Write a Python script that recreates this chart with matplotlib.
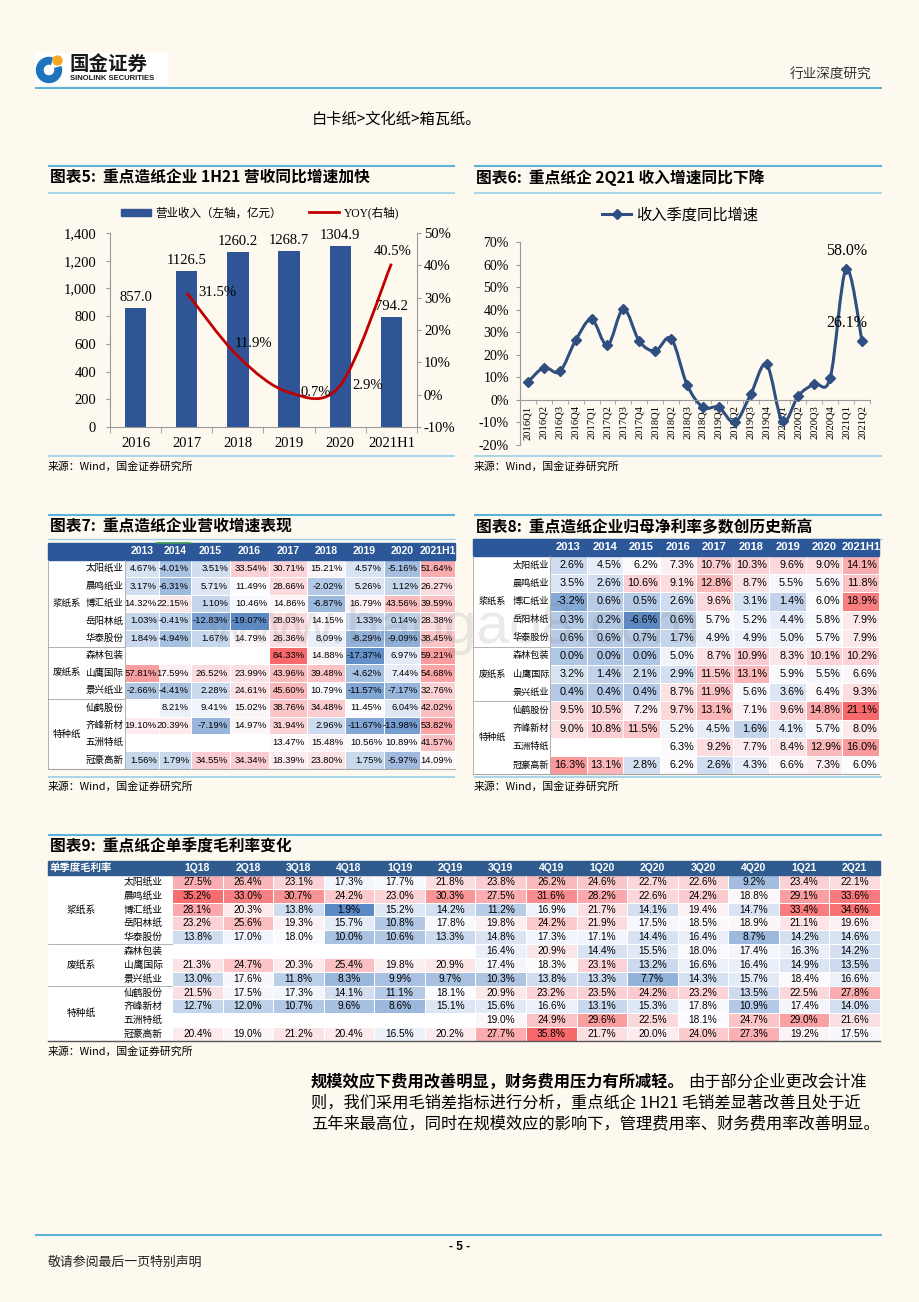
import numpy as np
import matplotlib
matplotlib.use('Agg')
import matplotlib.pyplot as plt
from matplotlib.path import Path
from matplotlib.patches import PathPatch, Rectangle, Wedge, Circle, Patch
from matplotlib.lines import Line2D
from matplotlib.colors import LinearSegmentedColormap, TwoSlopeNorm
from matplotlib.ticker import FuncFormatter, MultipleLocator

# ---------------- data ----------------
# chart 5: revenue (bars, left) and yoy (line, right)
rev_years = ['2016', '2017', '2018', '2019', '2020', '2021H1']
revenue = [857.0, 1126.5, 1260.2, 1268.7, 1304.9, 794.2]
revenue_yoy = [np.nan, 31.5, 11.9, 0.7, 2.9, 40.5]

# chart 6: quarterly revenue yoy
quarters = ['2016Q1', '2016Q2', '2016Q3', '2016Q4', '2017Q1', '2017Q2', '2017Q3', '2017Q4',
            '2018Q1', '2018Q2', '2018Q3', '2018Q4', '2019Q1', '2019Q2', '2019Q3', '2019Q4',
            '2020Q1', '2020Q2', '2020Q3', '2020Q4', '2021Q1', '2021Q2']
quarter_yoy = [7.9, 14.3, 12.6, 26.4, 35.7, 24.2, 40.3, 26.0, 21.7, 27.2, 6.7, -3.3,
               -3.3, -10.0, 2.4, 15.7, -9.5, 1.9, 7.1, 9.8, 58.0, 26.1]
quarter_labelled = [20, 21]

# tables
group_names = ['浆纸系', '废纸系', '特种纸']
group_sizes = [5, 3, 4]
companies = ['太阳纸业', '晨鸣纸业', '博汇纸业', '岳阳林纸', '华泰股份', '森林包装',
             '山鹰国际', '景兴纸业', '仙鹤股份', '齐峰新材', '五洲特纸', '冠豪高新']
table_years = ['2013', '2014', '2015', '2016', '2017', '2018', '2019', '2020', '2021H1']
nan = np.nan
rev_growth = [
    [4.67, -4.01, 3.51, 33.54, 30.71, 15.21, 4.57, -5.16, 51.64],
    [3.17, -6.31, 5.71, 11.49, 28.66, -2.02, 5.26, 1.12, 26.27],
    [14.32, 22.15, 1.10, 10.46, 14.86, -6.87, 16.79, 43.56, 39.59],
    [1.03, -0.41, -12.83, -19.07, 28.03, 14.15, 1.33, 0.14, 28.38],
    [1.84, -4.94, 1.67, 14.79, 26.36, 8.09, -8.29, -9.09, 38.45],
    [nan, nan, nan, nan, 84.33, 14.88, -17.37, 6.97, 59.21],
    [57.81, 17.59, 26.52, 23.99, 43.96, 39.48, -4.62, 7.44, 54.68],
    [-2.66, -4.41, 2.28, 24.61, 45.60, 10.79, -11.57, -7.17, 32.76],
    [nan, 8.21, 9.41, 15.02, 38.76, 34.48, 11.45, 6.04, 42.02],
    [19.10, 20.39, -7.19, 14.97, 31.94, 2.96, -11.67, -13.98, 53.82],
    [nan, nan, nan, nan, 13.47, 15.48, 10.56, 10.89, 41.57],
    [1.56, 1.79, 34.55, 34.34, 18.39, 23.80, 1.75, -5.97, 14.09],
]
net_margin = [
    [2.6, 4.5, 6.2, 7.3, 10.7, 10.3, 9.6, 9.0, 14.1],
    [3.5, 2.6, 10.6, 9.1, 12.8, 8.7, 5.5, 5.6, 11.8],
    [-3.2, 0.6, 0.5, 2.6, 9.6, 3.1, 1.4, 6.0, 18.9],
    [0.3, 0.2, -6.6, 0.6, 5.7, 5.2, 4.4, 5.8, 7.9],
    [0.6, 0.6, 0.7, 1.7, 4.9, 4.9, 5.0, 5.7, 7.9],
    [0.0, 0.0, 0.0, 5.0, 8.7, 10.9, 8.3, 10.1, 10.2],
    [3.2, 1.4, 2.1, 2.9, 11.5, 13.1, 5.9, 5.5, 6.6],
    [0.4, 0.4, 0.4, 8.7, 11.9, 5.6, 3.6, 6.4, 9.3],
    [9.5, 10.5, 7.2, 9.7, 13.1, 7.1, 9.6, 14.8, 21.1],
    [9.0, 10.8, 11.5, 5.2, 4.5, 1.6, 4.1, 5.7, 8.0],
    [nan, nan, nan, 6.3, 9.2, 7.7, 8.4, 12.9, 16.0],
    [16.3, 13.1, 2.8, 6.2, 2.6, 4.3, 6.6, 7.3, 6.0],
]
gm_quarters = ['1Q18', '2Q18', '3Q18', '4Q18', '1Q19', '2Q19', '3Q19', '4Q19',
               '1Q20', '2Q20', '3Q20', '4Q20', '1Q21', '2Q21']
gross_margin = [
    [27.5, 26.4, 23.1, 17.3, 17.7, 21.8, 23.8, 26.2, 24.6, 22.7, 22.6, 9.2, 23.4, 22.1],
    [35.2, 33.0, 30.7, 24.2, 23.0, 30.3, 27.5, 31.6, 28.2, 22.6, 24.2, 18.8, 29.1, 33.6],
    [28.1, 20.3, 13.8, 1.9, 15.2, 14.2, 11.2, 16.9, 21.7, 14.1, 19.4, 14.7, 33.4, 34.6],
    [23.2, 25.6, 19.3, 15.7, 10.8, 17.8, 19.8, 24.2, 21.9, 17.5, 18.5, 18.9, 21.1, 19.6],
    [13.8, 17.0, 18.0, 10.0, 10.6, 13.3, 14.8, 17.3, 17.1, 14.4, 16.4, 8.7, 14.2, 14.6],
    [nan, nan, nan, nan, nan, nan, 16.4, 20.9, 14.4, 15.5, 18.0, 17.4, 16.3, 14.2],
    [21.3, 24.7, 20.3, 25.4, 19.8, 20.9, 17.4, 18.3, 23.1, 13.2, 16.6, 16.4, 14.9, 13.5],
    [13.0, 17.6, 11.8, 8.3, 9.9, 9.7, 10.3, 13.8, 13.3, 7.7, 14.3, 15.7, 18.4, 16.6],
    [21.5, 17.5, 17.3, 14.1, 11.1, 18.1, 20.9, 23.2, 23.5, 24.2, 23.2, 13.5, 22.5, 27.8],
    [12.7, 12.0, 10.7, 9.6, 8.6, 15.1, 15.6, 16.6, 13.1, 15.3, 17.8, 10.9, 17.4, 14.0],
    [nan, nan, nan, nan, nan, nan, 19.0, 24.9, 29.6, 22.5, 18.1, 24.7, 29.0, 21.6],
    [20.4, 19.0, 21.2, 20.4, 16.5, 20.2, 27.7, 35.8, 21.7, 20.0, 24.0, 27.3, 19.2, 17.5],
]

# ---------------- style ----------------
W, H = 920, 1302
BG = '#FDF9EF'
SERIF = ['Liberation Serif', 'Noto Sans CJK SC']
CJK = ['Noto Sans CJK SC', 'DejaVu Sans']
ARIAL = ['Liberation Sans', 'Noto Sans CJK SC']
LINE = '#5BB3DA'
LINE2 = '#9ACFE6'
AX_GRAY = '#999999'
BAR_BLUE = '#2F5597'
RED = '#C00000'
NAVY = '#2F4F80'
XL = LinearSegmentedColormap.from_list('xl3', ['#5A8AC6', '#FCFCFF', '#F8696B'])

plt.rcParams['font.family'] = CJK
plt.rcParams['axes.unicode_minus'] = False

fig = plt.figure(figsize=(W / 100, H / 100), dpi=100, facecolor=BG)
pg = fig.add_axes([0, 0, 1, 1])
pg.set_xlim(0, W)
pg.set_ylim(H, 0)
pg.axis('off')


def px_axes(l, t, r, b):
    ax = fig.add_axes([l / W, 1 - b / H, (r - l) / W, (b - t) / H])
    ax.patch.set_visible(False)
    return ax


def hline(y, x0, x1, color, lw):
    pg.plot([x0, x1], [y, y], color=color, lw=lw, solid_capstyle='butt')


def smooth_path(x, y):
    # catmull-rom style bezier through the points
    pts = np.column_stack([x, y]).astype(float)
    ext = np.vstack([pts[0], pts, pts[-1]])
    verts, codes = [pts[0]], [Path.MOVETO]
    for i in range(len(pts) - 1):
        p0, p1, p2, p3 = ext[i], ext[i + 1], ext[i + 2], ext[i + 3]
        verts += [p1 + (p2 - p0) / 6, p2 - (p3 - p1) / 6, p2]
        codes += [Path.CURVE4] * 3
    return Path(verts, codes)


# ---------------- page header / footer ----------------
pg.add_patch(Rectangle((35, 53), 132, 31, color='white', zorder=1))
pg.add_patch(Wedge((49, 70), 12.5, -15, 285, width=6.5, color='#1E73BE', zorder=2))
pg.add_patch(Circle((57.5, 60.5), 4.5, color='#F5A623', zorder=3))
pg.text(70, 64, '国金证券', fontsize=14, fontweight='bold', color='#1A1A1A', va='center')
pg.text(70, 79, 'SINOLINK SECURITIES', fontsize=5.5, fontweight='bold',
        family='Liberation Sans', va='center', color='#1A1A1A')
pg.text(871, 75, '行业深度研究', fontsize=9.8, ha='right', va='center', color='#333333')
hline(88, 35, 882, LINE, 1.5)
pg.text(312, 119, '白卡纸>文化纸>箱瓦纸。', fontsize=11, va='center')

hline(1235, 35, 882, LINE, 1.5)
pg.text(460, 1247, '- 5 -', fontsize=8.5, fontweight='bold', ha='center', va='center',
        family='Liberation Sans')
pg.text(48, 1262, '敬请参阅最后一页特别声明', fontsize=9.3, va='center', color='#222222')

SOURCE = '来源：Wind，国金证券研究所'

# chart frames
for x0, x1, title in [(48, 455, '图表5:  重点造纸企业 1H21 营收同比增速加快'),
                      (474, 882, '图表6:  重点纸企 2Q21 收入增速同比下降')]:
    hline(166, x0, x1, LINE, 1.5)
    pg.text(x0 + 2, 178, title, fontsize=11.3, fontweight='bold', va='center')
    hline(193, x0, x1, LINE2, 1.2)
    hline(456, x0, x1, LINE2, 1.2)
    pg.text(x0, 467, SOURCE, fontsize=7.8, va='center')

for x0, x1, title in [(48, 455, '图表7:  重点造纸企业营收增速表现'),
                      (474, 882, '图表8:  重点造纸企业归母净利率多数创历史新高')]:
    hline(515, x0, x1, LINE, 1.5)
    pg.text(x0 + 2, 527, title, fontsize=11.3, fontweight='bold', va='center')
    hline(539, x0, x1, LINE2, 1.0)
    hline(777, x0, x1, LINE2, 1.2)
    pg.text(x0, 787, SOURCE, fontsize=7.8, va='center')

hline(835, 48, 882, LINE, 1.5)
pg.text(50, 847, '图表9:  重点纸企单季度毛利率变化', fontsize=11.3, fontweight='bold', va='center')
pg.text(48, 1052, SOURCE, fontsize=7.8, va='center')

# ---------------- chart 5 ----------------
ax5 = px_axes(110, 233, 417, 427)
xr = np.arange(len(rev_years))
ax5.bar(xr, revenue, width=0.42, color=BAR_BLUE, zorder=2)
ax5.set_xlim(-0.5, len(rev_years) - 0.5)
ax5.set_ylim(0, 1400)
ax5.yaxis.set_major_locator(MultipleLocator(200))
ax5.yaxis.set_major_formatter(FuncFormatter(lambda v, p: f'{v:,.0f}'))
ax5.set_xticks(xr)
ax5.set_xticklabels(rev_years)
ax5.set_xticks(np.arange(-0.5, len(rev_years)), minor=True)
ax5.tick_params(axis='x', which='major', length=0, pad=7)
ax5.tick_params(axis='x', which='minor', length=4, color=AX_GRAY)
ax5.tick_params(axis='y', length=3, color=AX_GRAY, pad=7)
for s in ['top', 'right']:
    ax5.spines[s].set_visible(False)
for s in ['left', 'bottom']:
    ax5.spines[s].set_color(AX_GRAY)
for lab in ax5.get_xticklabels() + ax5.get_yticklabels():
    lab.set_fontfamily(SERIF)
    lab.set_fontsize(10.5)
for x, v in zip(xr, revenue):
    ax5.annotate(f'{v:.1f}', (x, v), xytext=(0, 3), textcoords='offset points',
                 ha='center', va='bottom', family=SERIF, fontsize=10.5)

ax5r = ax5.twinx()
ax5r.patch.set_visible(False)
ax5r.set_ylim(-10, 50)
ax5r.yaxis.set_major_locator(MultipleLocator(10))
ax5r.yaxis.set_major_formatter(FuncFormatter(lambda v, p: f'{v:.0f}%'))
ax5r.tick_params(axis='y', length=3, color=AX_GRAY, pad=2)
for s in ['top', 'left', 'bottom']:
    ax5r.spines[s].set_visible(False)
ax5r.spines['right'].set_color(AX_GRAY)
for lab in ax5r.get_yticklabels():
    lab.set_fontfamily(SERIF)
    lab.set_fontsize(10.5)
yoy = np.array(revenue_yoy)
ok = ~np.isnan(yoy)
ax5r.add_patch(PathPatch(smooth_path(xr[ok], yoy[ok]), fill=False, ec=RED, lw=2, zorder=3))
yoy_offsets = [(0, 0), (22, 0), (11, 9), (19, 0), (20, 0), (1, 9)]
for x, v, off in zip(xr, yoy, yoy_offsets):
    if np.isnan(v):
        continue
    ax5r.annotate(f'{v:.1f}%', (x, v), xytext=off, textcoords='offset points',
                  ha='center', va='center', family=SERIF, fontsize=10.5)

fig.legend([Patch(color=BAR_BLUE), Line2D([], [], color=RED, lw=2)],
           ['营业收入（左轴，亿元）', 'YOY(右轴)'], loc='center',
           bbox_to_anchor=(260 / W, 1 - 213 / H), ncol=2, frameon=False,
           prop={'family': SERIF, 'size': 8.3}, handlelength=2.6, handleheight=0.6,
           handletextpad=0.4, columnspacing=2.4)

# ---------------- chart 6 ----------------
ax6 = px_axes(520, 242, 870, 445)
ax6.spines['bottom'].set_position(('data', 0))
xq = np.arange(len(quarters))
ax6.add_patch(PathPatch(smooth_path(xq, quarter_yoy), fill=False, ec=NAVY, lw=2.2, zorder=2))
ax6.plot(xq, quarter_yoy, 'D', ms=5.5, color=NAVY, zorder=3)
ax6.set_xlim(-0.5, len(quarters) - 0.5)
ax6.set_ylim(-20, 70)
ax6.yaxis.set_major_locator(MultipleLocator(10))
ax6.yaxis.set_major_formatter(FuncFormatter(lambda v, p: f'{v:.0f}%'))
ax6.set_xticks(xq)
ax6.set_xticklabels(quarters)
ax6.set_xticks(np.arange(-0.5, len(quarters)), minor=True)
ax6.tick_params(axis='x', which='major', length=0, pad=4, labelrotation=90)
ax6.tick_params(axis='x', which='minor', length=3, color=AX_GRAY)
ax6.tick_params(axis='y', length=3, color=AX_GRAY, pad=5)
for s in ['top', 'right']:
    ax6.spines[s].set_visible(False)
for s in ['left', 'bottom']:
    ax6.spines[s].set_color(AX_GRAY)
for lab in ax6.get_xticklabels():
    lab.set_fontfamily(SERIF)
    lab.set_fontsize(7.6)
    lab.set_rotation(90)
for lab in ax6.get_yticklabels():
    lab.set_fontfamily(SERIF)
    lab.set_fontsize(10)
q_offsets = {20: (0, 13), 21: (-11, 13)}
for i in quarter_labelled:
    ax6.annotate(f'{quarter_yoy[i]:.1f}%', (xq[i], quarter_yoy[i]), xytext=q_offsets[i],
                 textcoords='offset points', ha='center', va='center',
                 family=SERIF, fontsize=11.5)
fig.legend([Line2D([], [], color=NAVY, lw=2.2, marker='D', ms=5.5)], ['收入季度同比增速'],
           loc='center', bbox_to_anchor=(680 / W, 1 - 215 / H), frameon=False,
           prop={'family': CJK, 'size': 11}, handlelength=1.9, handletextpad=0.3)


# ---------------- tables ----------------
def draw_table(x0, group_w, name_w, col_w, top, head_h, row_h, col_labels, vals, fmt,
               head_color, num_family, num_size, num_ha, name_size, head_size,
               head_family, corner=None, border='#A6A6A6', vlines=True,
               bottom_color='#A6A6A6', bottom_lw=0.8):
    vals = np.array(vals, dtype=float)
    nrow, ncol = vals.shape
    data_x0 = x0 + group_w + name_w
    xe = data_x0 + np.concatenate([[0], np.cumsum(col_w)])
    ye = top + head_h + row_h * np.arange(nrow + 1)
    pg.add_patch(Rectangle((x0, ye[0]), xe[-1] - x0, ye[-1] - ye[0], color='white', zorder=1))
    norm = TwoSlopeNorm(vmin=np.nanmin(vals), vcenter=np.nanmedian(vals), vmax=np.nanmax(vals))
    pg.pcolormesh(xe, ye, np.ma.masked_invalid(vals), cmap=XL, norm=norm,
                  edgecolors='white', linewidth=0.4, zorder=2)
    pg.add_patch(Rectangle((x0, top), xe[-1] - x0, head_h, color=head_color, zorder=2))
    hy = top + head_h / 2
    for j, lab in enumerate(col_labels):
        pg.text((xe[j] + xe[j + 1]) / 2, hy, lab, color='white', fontsize=head_size,
                fontweight='bold', family=head_family, ha='center', va='center', zorder=3)
    if corner:
        pg.text(x0 + 2, hy, corner, color='white', fontsize=head_size, fontweight='bold',
                ha='left', va='center', zorder=3)
    for i, name in enumerate(companies):
        yc = (ye[i] + ye[i + 1]) / 2
        pg.text(x0 + group_w + name_w / 2, yc, name, fontsize=name_size,
                ha='center', va='center', zorder=3)
        for j in range(ncol):
            v = vals[i, j]
            if np.isnan(v):
                continue
            tx = xe[j + 1] - 2 if num_ha == 'right' else (xe[j] + xe[j + 1]) / 2
            pg.text(tx, yc, fmt.format(v), fontsize=num_size, family=num_family,
                    ha=num_ha, va='center', zorder=3)
    start = 0
    for g, n in zip(group_names, group_sizes):
        yc = (ye[start] + ye[start + n]) / 2
        pg.text(x0 + group_w / 2, yc, g, fontsize=name_size, ha='center', va='center', zorder=3)
        start += n
        if start < nrow:
            pg.plot([x0, data_x0], [ye[start]] * 2, color=border, lw=0.6, zorder=3)
    if vlines:
        pg.plot([x0, x0], [ye[0], ye[-1]], color=border, lw=0.6, zorder=3)
        pg.plot([data_x0, data_x0], [ye[0], ye[-1]], color=border, lw=0.6, zorder=3)
    pg.plot([x0, xe[-1]], [ye[-1]] * 2, color=bottom_color, lw=bottom_lw, zorder=3)


# table 7
draw_table(48, 37, 40, [34, 32, 39, 39, 38, 38, 39, 36, 35], 543, 17, 17.4,
           table_years, rev_growth, '{:.2f}%', '#2C5798', ARIAL, 6.8, 'right', 6.8, 7.5, ARIAL)
pg.plot([157, 190], [542.5, 542.5], color='#3E9B5A', lw=1.2, zorder=4)
# table 8
draw_table(473, 39, 38, [329 / 9] * 9, 539, 17, 18.17,
           table_years, net_margin, '{:.1f}%', '#2C5798', ARIAL, 7.8, 'right', 6.6, 8, ARIAL)
# table 9
draw_table(48, 67, 57, [708 / 14] * 14, 861, 14, 13.83,
           gm_quarters, gross_margin, '{:.1f}%', '#2F5B8E', ARIAL, 7.3, 'center', 7, 7.5,
           ARIAL, corner='单季度毛利率', vlines=False, bottom_color='#555555', bottom_lw=1.0)

# watermark
fig.text(454 / W, 1 - 628 / H, 'www.baogao8.com', fontsize=42, family='Liberation Sans',
         color='#808080', alpha=0.16, ha='center', va='center', zorder=10)

# ---------------- body text ----------------
renderer = fig.canvas.get_renderer()
bold_part = '规模效应下费用改善明显，财务费用压力有所减轻。'
t = pg.text(311, 1082, bold_part, fontsize=11.7, fontweight='bold', va='center')
x_end = t.get_window_extent(renderer).x1
pg.text(x_end + 3, 1082, '由于部分企业更改会计准', fontsize=11.7, va='center')
pg.text(311, 1103, '则，我们采用毛销差指标进行分析，重点纸企 1H21 毛销差显著改善且处于近',
        fontsize=11.7, va='center')
pg.text(311, 1124, '五年来最高位，同时在规模效应的影响下，管理费用率、财务费用率改善明显。',
        fontsize=11.7, va='center')

fig.savefig('out.png', dpi=100, facecolor=BG)
